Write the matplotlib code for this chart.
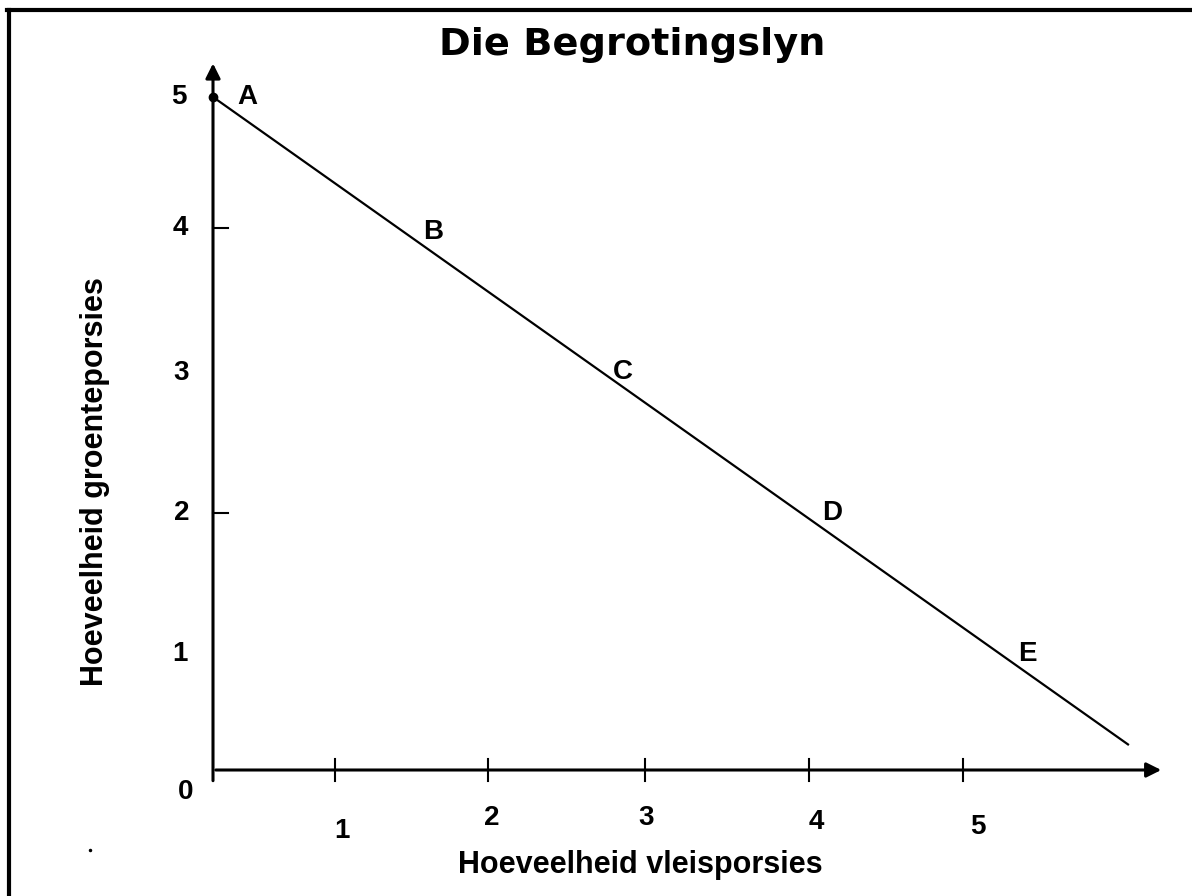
import matplotlib.pyplot as plt
from matplotlib.lines import Line2D

# budget line (x in meat portions, y in veg portions)
line_x = [0.0, 6.1]
line_y = [5.0, 0.19]

# points on the line and where their letters sit
point_names = ["A", "B", "C", "D", "E"]
point_x = [0.23, 1.47, 2.73, 4.13, 5.43]
point_y = [5.0, 4.0, 2.96, 1.91, 0.86]

# hand-drawn tick marks
xtick_pos = [0.81, 1.83, 2.88, 3.97, 5.0]
ytick_pos = [4.03, 1.91]

# tick labels and where they are placed
xlabels = ["1", "2", "3", "4", "5"]
xlabel_x = [0.86, 1.86, 2.89, 4.02, 5.1]
xlabel_y = [-0.45, -0.36, -0.36, -0.39, -0.42]
ylabels = ["5", "4", "3", "2", "1", "0"]
ylabel_y = [5.0, 4.03, 2.95, 1.91, 0.86, -0.16]
ylabel_x = [-0.23, -0.22, -0.21, -0.21, -0.22, -0.18]

W, H = 1192, 896
fig = plt.figure(figsize=(W / 100, H / 100), dpi=100)
ax = fig.add_axes([0, 0, 1, 1])
# x: 0 at pixel 213, 150 px/unit ; y: 0 at pixel 770 from top, 134.6 px/unit
ax.set_xlim(-213 / 150, (W - 213) / 150)
ax.set_ylim(-(H - 770) / 134.6, 770 / 134.6)
ax.axis("off")

font = "Liberation Sans"

# axes with arrows
ax.annotate("", xy=(6.34, 0), xytext=(0, 0),
            arrowprops=dict(arrowstyle="-|>", color="black", lw=2.2, mutation_scale=22))
ax.annotate("", xy=(0, 5.27), xytext=(0, -0.1),
            arrowprops=dict(arrowstyle="-|>", color="black", lw=2.2, mutation_scale=22))

# ticks
for x in xtick_pos:
    ax.plot([x, x], [-0.08, 0.08], color="black", lw=1.5)
for y in ytick_pos:
    ax.plot([0, 0.1], [y, y], color="black", lw=1.5)

# budget line and point A marker
ax.plot(line_x, line_y, color="black", lw=1.6)
ax.plot([0], [5.0], "o", color="black", markersize=6)

for name, x, y in zip(point_names, point_x, point_y):
    ax.text(x, y, name, fontsize=20, fontweight="bold", family=font,
            ha="center", va="center")

for lab, x, y in zip(xlabels, xlabel_x, xlabel_y):
    ax.text(x, y, lab, fontsize=20, fontweight="bold", family=font,
            ha="center", va="center")
for lab, x, y in zip(ylabels, ylabel_x, ylabel_y):
    ax.text(x, y, lab, fontsize=20, fontweight="bold", family=font,
            ha="center", va="center")

# titles
fig.text(632 / W, 1 - 45 / H, "Die Begrotingslyn", fontsize=27.5, fontweight="bold",
         family="DejaVu Sans", ha="center", va="center")
fig.text(640 / W, 1 - 865 / H, "Hoeveelheid vleisporsies", fontsize=22,
         fontweight="bold", family=font, ha="center", va="center")
fig.text(95 / W, 1 - 482 / H, "Hoeveelheid groenteporsies", fontsize=22,
         fontweight="bold", family=font, ha="center", va="center", rotation=90)

# frame: only left and top edges are visible
fig.add_artist(Line2D([9 / W, 9 / W], [0, 1 - 10 / H], color="black", lw=3,
                      transform=fig.transFigure))
fig.add_artist(Line2D([7.5 / W, 1], [1 - 10 / H, 1 - 10 / H], color="black", lw=3,
                      transform=fig.transFigure))
# stray dot
fig.add_artist(Line2D([90 / W], [1 - 850 / H], marker="o", markersize=1.5,
                      color="black", transform=fig.transFigure))

fig.savefig("out.png", dpi=100)
